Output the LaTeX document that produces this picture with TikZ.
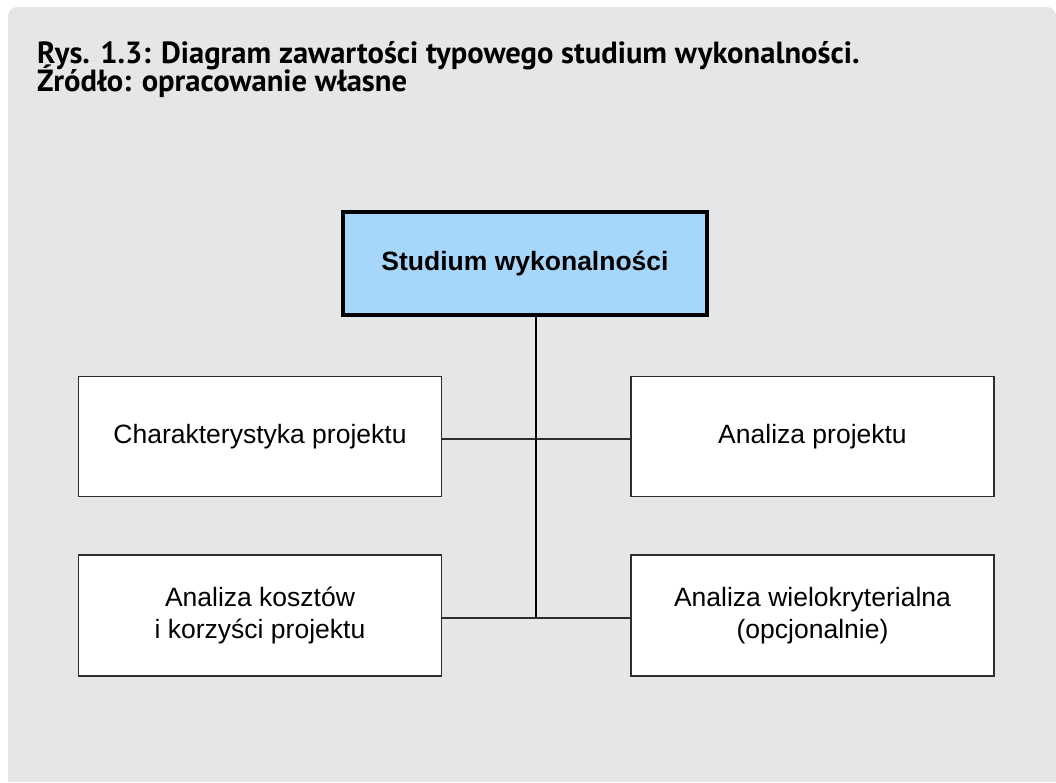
\documentclass[tikz,border=0pt]{standalone}
\usepackage{fontspec}
\setmainfont{Liberation Sans}
\newfontfamily\titlefont{PT Sans}
\newcommand\captionsetup{\titlefont\fontsize{30.6}{28}\selectfont\bfseries\lineskiplimit-30pt\relax}
\definecolor{panelgray}{RGB}{229,230,232}
\definecolor{headblue}{RGB}{166,214,250}
\definecolor{edgegray}{RGB}{45,45,45}
\begin{document}
\begin{tikzpicture}[x=1pt,y=-1pt,
  boxstyle/.style={draw=edgegray,line width=1.4pt,fill=white,minimum width=363pt,
    minimum height=120pt,inner sep=0pt,align=center,font=\fontsize{26.5}{32}\selectfont},
  headstyle/.style={draw=black,line width=4pt,fill=headblue,minimum width=364pt,
    minimum height=103pt,inner sep=0pt,align=center,font=\fontsize{26.5}{32}\selectfont\bfseries},
  trunkline/.style={draw=black,line width=2pt},
  branchline/.style={draw=edgegray,line width=1.5pt}]
\useasboundingbox (0,0) rectangle (1056,782);
% background panel
\fill[white] (0,0) rectangle (1056,782);
\fill[panelgray] (1056,782) -- (8,782) [rounded corners=9pt] -- (8,7) -- (1056,7) [sharp corners] -- cycle;
% caption, two lines, baselines 28pt apart
\node[anchor=base west,inner sep=0pt,align=left,font=\captionsetup] (caption) at (37,91)
  {Rys. 1.3: Diagram zawartości typowego studium wykonalności.\\Źródło: opracowanie własne};
% boxes
\node[headstyle] (head) at (525,263.5) {Studium wykonalności};
\node[boxstyle] (c1) at (260,436.5) {Charakterystyka projektu};
\node[boxstyle] (c2) at (812.5,436.5) {Analiza projektu};
\node[boxstyle,minimum height=121pt] (c3) at (260,615.5) {Analiza kosztów\\i korzyści projektu};
\node[boxstyle,minimum height=121pt] (c4) at (812.5,615.5) {Analiza wielokryterialna\\(opcjonalnie)};
% junctions on the trunk
\coordinate (j1) at (536,439);
\coordinate (j2) at (536,618);
% connectors
\draw[branchline] (c1.east |- j1) -- (c2.west |- j1);
\draw[branchline] (c3.east |- j2) -- (c4.west |- j2);
\draw[trunkline] (head.south -| j1) -- (j2);
\end{tikzpicture}
\end{document}
